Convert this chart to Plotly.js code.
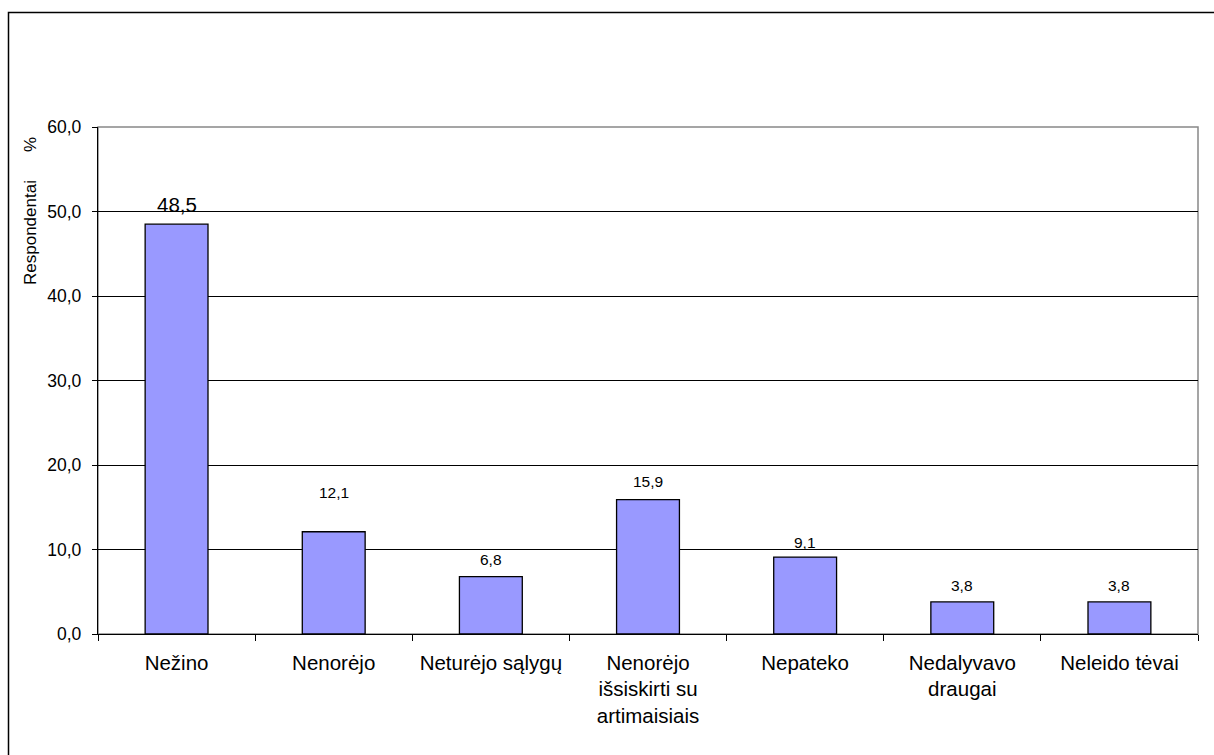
<!DOCTYPE html>
<html>
<head>
<meta charset="utf-8">
<script src="https://cdn.plot.ly/plotly-3.0.1.min.js"></script>
<style>html,body{margin:0;padding:0;background:#fff;}#chart{width:1214px;height:755px;}</style>
</head>
<body>
<div id="chart"></div>
<script>
const categories = ["Nežino", "Nenorėjo", "Neturėjo sąlygų", "Nenorėjo<br>išsiskirti su<br>artimaisiais", "Nepateko", "Nedalyvavo<br>draugai", "Neleido tėvai"];
const values = [48.5, 12.1, 6.8, 15.9, 9.1, 3.8, 3.8];
const yTicks = [0, 10, 20, 30, 40, 50, 60];

// styling of the value labels (font size and pixel offset above the bar top)
const labelSizes = [20.5, 15.5, 15.5, 15.5, 15.5, 15.5, 15.5];
const labelOffsets = [20, 39, 17, 18, 15, 16, 16];

const FONT = "Liberation Sans, Arial, sans-serif";

const trace = {
  type: "bar",
  x: categories,
  y: values,
  width: 0.4,
  marker: {color: "#9999FF", line: {color: "#000000", width: 1.3}},
  hoverinfo: "skip"
};

const annotations = values.map((v, i) => ({
  x: categories[i], y: v, xref: "x", yref: "y",
  text: v.toFixed(1).replace(".", ","),
  showarrow: false, yanchor: "middle", yshift: labelOffsets[i],
  font: {family: FONT, size: labelSizes[i], color: "#000"}
}));

const L = 98, R = 1198, T = 127, B = 634, W = 1214, H = 755;
const px = p => (p - L) / (R - L);
const py = p => (B - p) / (B - T);

annotations.push(
  {xref: "paper", yref: "paper", x: px(31), y: py(233), text: "Respondentai", textangle: -90,
   showarrow: false, xanchor: "center", yanchor: "middle", font: {family: FONT, size: 17, color: "#000"}},
  {xref: "paper", yref: "paper", x: px(31), y: py(145), text: "%", textangle: -90,
   showarrow: false, xanchor: "center", yanchor: "middle", font: {family: FONT, size: 17, color: "#000"}}
);

const layout = {
  width: W, height: H,
  margin: {l: L, r: W - R, t: T, b: H - B, pad: 0},
  paper_bgcolor: "#fff", plot_bgcolor: "#fff",
  separators: ",.",
  showlegend: false,
  font: {family: FONT, size: 17, color: "#000"},
  xaxis: {
    type: "category",
    showline: true, linecolor: "#000", linewidth: 1.2,
    ticks: "outside", tickson: "boundaries", ticklen: 6, tickcolor: "#000", tickwidth: 1,
    showgrid: false,
    tickfont: {size: 20.5},
    ticklabelstandoff: 10,
    automargin: false
  },
  yaxis: {
    range: [0, 60], tickvals: yTicks, tickformat: ".1f",
    showline: true, linecolor: "#000", linewidth: 1.2,
    ticks: "outside", ticklen: 5, tickcolor: "#000",
    showgrid: true, gridcolor: "#000", gridwidth: 1,
    zeroline: false,
    tickfont: {size: 17.5},
    ticklabelstandoff: 7,
    automargin: false
  },
  annotations: annotations,
  shapes: [
    {type: "rect", xref: "paper", yref: "paper", x0: 0, x1: 1, y0: 0, y1: 1,
     line: {color: "#888", width: 1.5}, layer: "below"},
    {type: "rect", xref: "paper", yref: "paper", x0: px(8.5), x1: px(1230), y0: py(12.5), y1: py(770),
     line: {color: "#000", width: 1.5}}
  ]
};

Plotly.newPlot("chart", [trace], layout, {displayModeBar: false, staticPlot: true});
</script>
</body>
</html>
